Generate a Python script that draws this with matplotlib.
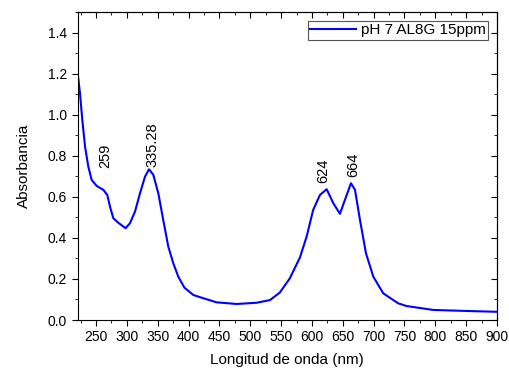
import matplotlib
matplotlib.use("Agg")
import matplotlib.pyplot as plt
from matplotlib.ticker import MultipleLocator

plt.rcParams['font.family'] = ['Liberation Sans', 'DejaVu Sans']

# spectrum
wavelength = [220.3, 224, 227.8, 232.2, 237.5, 243, 251.1, 261.8, 268.3, 272.7,
              278, 286, 298, 305, 313.2, 321.3, 329.4, 335.9, 342.9, 351, 359,
              367.2, 375.3, 383.4, 393.2, 407.6, 423.9, 445.6, 478, 510.4, 532,
              548, 564.2, 580.6, 591.4, 602, 613, 623.9, 634.6, 645.4, 653.5,
              663.3, 669.8, 677.9, 687.6, 699.5, 715.6, 740, 753.5, 796.7, 850.8,
              899.5]
absorb = [1.202, 1.105, 0.975, 0.845, 0.747, 0.682, 0.653, 0.634, 0.609, 0.552,
          0.496, 0.474, 0.447, 0.471, 0.528, 0.617, 0.698, 0.734, 0.707, 0.617,
          0.487, 0.357, 0.276, 0.211, 0.158, 0.122, 0.106, 0.086, 0.078, 0.084,
          0.097, 0.134, 0.203, 0.305, 0.406, 0.536, 0.609, 0.637, 0.569, 0.517,
          0.585, 0.666, 0.634, 0.487, 0.325, 0.211, 0.13, 0.081, 0.068, 0.049,
          0.044, 0.04]

peak_labels = ["259", "335.28", "624", "664"]
peak_x = [264.6, 341.9, 618.4, 667]
peak_y = [0.74, 0.746, 0.668, 0.697]

fig = plt.figure(figsize=(5.09, 3.70), dpi=100)
ax = fig.add_axes([77.5 / 509, 50 / 370, 419.5 / 509, 308 / 370])

ax.plot(wavelength, absorb, color="#0000ff", lw=1.5, label="pH 7 AL8G 15ppm")

for lab, x, y in zip(peak_labels, peak_x, peak_y):
    ax.text(x, y, lab, rotation=90, ha="center", va="bottom", fontsize=10.5)

ax.set_xlim(220, 900)
ax.set_ylim(0, 1.5)
ax.set_yticks([0, 0.2, 0.4, 0.6, 0.8, 1.0, 1.2, 1.4])
ax.set_xticks(range(250, 901, 50))
ax.xaxis.set_minor_locator(MultipleLocator(25))
ax.yaxis.set_minor_locator(MultipleLocator(0.1))
ax.tick_params(which="both", direction="out", top=False, right=False, labelsize=10)
ax.tick_params(which="major", length=4)
ax.tick_params(which="minor", length=2.5)

# inner ticks on top and right
sec_x = ax.secondary_xaxis("top")
sec_x.set_xticks(range(250, 901, 50))
sec_x.xaxis.set_minor_locator(MultipleLocator(25))
sec_x.tick_params(which="both", direction="in", labeltop=False)
sec_x.tick_params(which="major", length=4)
sec_x.tick_params(which="minor", length=2.5)
sec_y = ax.secondary_yaxis("right")
sec_y.set_yticks([0, 0.2, 0.4, 0.6, 0.8, 1.0, 1.2, 1.4])
sec_y.yaxis.set_minor_locator(MultipleLocator(0.1))
sec_y.tick_params(which="both", direction="in", labelright=False)
sec_y.tick_params(which="major", length=4)
sec_y.tick_params(which="minor", length=2.5)

ax.set_xlabel("Longitud de onda (nm)", fontsize=11, labelpad=6)
ax.set_ylabel("Absorbancia", fontsize=11, labelpad=12)

leg = ax.legend(loc="upper right", fontsize=11, fancybox=False, framealpha=1,
                edgecolor="#555555", borderpad=0.15, handlelength=3,
                handletextpad=0.3, borderaxespad=0.6)
leg.get_frame().set_linewidth(0.8)

fig.savefig("out.png", dpi=100)
